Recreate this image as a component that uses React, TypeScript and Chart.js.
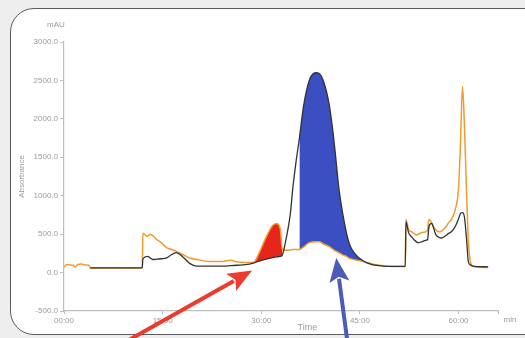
import React, { useEffect, useRef } from "react";
import { Chart, registerables } from "chart.js";

Chart.register(...registerables);

// ---- data (time in minutes, absorbance in mAU) ----
const times = [
  0.0, 0.4, 0.9, 1.4, 1.7, 2.1, 2.6, 3.2, 3.8, 4.0, 6.0, 8.0, 10.0, 11.9, 12.0, 12.7, 13.1, 13.5, 14.1, 14.8,
  15.6, 16.4, 17.1, 18.0, 18.6, 19.1, 20.2, 22.1, 24.1, 25.3, 26.2, 28.2, 28.9, 29.7, 30.8, 31.7, 32.3, 32.9,
  33.2, 33.8, 34.4, 34.8, 35.3, 35.8, 36.4, 37.3, 38.3, 38.8, 39.5, 40.3, 40.8, 41.2, 41.8, 42.4, 42.9, 43.3,
  43.8, 44.5, 45.2, 46.0, 47.0, 48.5, 50.0, 51.9, 52.0, 52.4, 52.9, 53.2, 53.6, 53.9, 54.4, 55.0, 55.3, 55.5,
  55.9, 56.2, 56.5, 57.0, 57.4, 57.7, 58.2, 58.5, 58.9, 59.5, 60.0, 60.3, 60.6, 60.9, 61.2, 61.5, 61.8, 62.2,
  64.5,
];

const orangeTrace = [
  70, 105, 100, 95, 70, 105, 110, 100, 95, 60, 60, 60, 60, 62, 510, 470, 500, 480, 430, 390,
  325, 300, 275, 235, 210, 190, 170, 145, 145, 160, 140, 130, 135, 260, 470, 610, 640, 560,
  300, 290, 295, 300, 300, 300, 330, 390, 400, 400, 370, 340, 310, 285, 260, 230, 215, 190,
  175, 160, 150, 130, 110, 90, 80, 80, 690, 560, 530, 510, 490, 500, 520, 530, 560, 690,
  650, 600, 560, 530, 540, 560, 610, 650, 690, 820, 1100, 1700, 2420, 1900, 1100, 400, 150, 80,
  65,
];

const blackTrace = [
  null, null, null, null, null, null, null, null, null, 60, 60, 60, 60, 62, 180, 210, 190, 170, 175, 180,
  190, 235, 260, 210, 160, 120, 85, 85, 85, 90, 95, 110, 125, 150, 175, 195, 205, 210,
  230, 450, 750, 1100, 1450, 1750, 2150, 2500, 2600, 2590, 2480, 2200, 1900, 1600, 1100, 760, 540, 400,
  300, 220, 170, 130, 100, 85, 80, 80, 660, 520, 460, 430, 400, 390, 400, 420, 430, 600,
  640, 580, 500, 460, 450, 460, 490, 510, 530, 600, 700, 770, 780, 720, 450, 140, 100, 85,
  75,
];

const redRange = [28.9, 33.2];
const blueRange = [35.8, 48.5];

const xTickValues = [0, 15, 30, 45, 60];
const xAxisMax = 66;
const yAxisMin = -500;
const yAxisMax = 3000;
const yStep = 500;

// arrows: [tail, tip] in (minutes, mAU)
const redArrow = [[9.4, -900], [28.6, 26]];
const blueArrow = [[43.1, -900], [41.4, 190]];

const FONT = "'Liberation Sans', Arial, sans-serif";

const points = (vals: (number | null)[]) => times.map((t, i) => ({ x: t, y: vals[i] }));
const slicePts = (vals: (number | null)[], range: number[]) =>
  points(vals).filter((p) => p.x >= range[0] - 1e-9 && p.x <= range[1] + 1e-9);

const fmtTime = (v: number) => `${String(v).padStart(2, "0")}:00`;

function drawArrow(ctx: CanvasRenderingContext2D, x1: number, y1: number, x2: number, y2: number,
  color: string, width: number, headLen: number, headW: number) {
  const ang = Math.atan2(y2 - y1, x2 - x1);
  const bx = x2 - headLen * Math.cos(ang);
  const by = y2 - headLen * Math.sin(ang);
  ctx.save();
  ctx.strokeStyle = color;
  ctx.lineWidth = width;
  ctx.lineCap = "butt";
  ctx.beginPath();
  ctx.moveTo(x1, y1);
  ctx.lineTo(bx + 3 * Math.cos(ang), by + 3 * Math.sin(ang));
  ctx.stroke();
  ctx.fillStyle = color;
  ctx.beginPath();
  ctx.moveTo(x2, y2);
  ctx.lineTo(bx + (headW / 2) * Math.sin(ang), by - (headW / 2) * Math.cos(ang));
  ctx.lineTo(bx + 5 * Math.cos(ang), by + 5 * Math.sin(ang));
  ctx.lineTo(bx - (headW / 2) * Math.sin(ang), by + (headW / 2) * Math.cos(ang));
  ctx.closePath();
  ctx.fill();
  ctx.restore();
}

const overlayPlugin = {
  id: "overlay",
  afterDraw(chart: any) {
    const { ctx, chartArea, scales } = chart;
    const xs = scales.x;
    const ys = scales.y;
    ctx.save();
    ctx.fillStyle = "#9a9a9a";
    ctx.font = `8px ${FONT}`;
    ctx.textBaseline = "middle";
    ctx.textAlign = "center";
    ctx.fillText("mAU", chartArea.left - 8, chartArea.top - 17);
    ctx.fillText("min", chartArea.right + 12, xs.top + 9);
    ctx.font = `9px ${FONT}`;
    ctx.fillText("Time", xs.getPixelForValue(37), xs.top + 17);
    ctx.restore();

    const arrows: [number[][], string][] = [
      [redArrow, "#ea3b2e"],
      [blueArrow, "#4a5bb8"],
    ];
    for (const [a, color] of arrows) {
      drawArrow(
        ctx,
        xs.getPixelForValue(a[0][0]), ys.getPixelForValue(a[0][1]),
        xs.getPixelForValue(a[1][0]), ys.getPixelForValue(a[1][1]),
        color, 4, 24, 20
      );
    }
  },
};

export default function App() {
  const ref = useRef<HTMLCanvasElement | null>(null);

  useEffect(() => {
    if (!ref.current) return;
    const chart = new Chart(ref.current, {
      type: "line",
      data: {
        datasets: [
          {
            label: "redTop",
            data: slicePts(orangeTrace, redRange),
            borderWidth: 0,
            pointRadius: 0,
            backgroundColor: "#e8251b",
            fill: 1,
            order: 3,
            cubicInterpolationMode: "monotone",
          },
          {
            label: "redBottom",
            data: slicePts(blackTrace, redRange),
            borderWidth: 0,
            pointRadius: 0,
            fill: false,
            order: 4,
            cubicInterpolationMode: "monotone",
          },
          {
            label: "blueTop",
            data: slicePts(blackTrace, blueRange),
            borderWidth: 0,
            pointRadius: 0,
            backgroundColor: "#3b4ec2",
            fill: 3,
            order: 5,
            cubicInterpolationMode: "monotone",
          },
          {
            label: "blueBottom",
            data: slicePts(orangeTrace, blueRange),
            borderWidth: 0,
            pointRadius: 0,
            fill: false,
            order: 6,
            cubicInterpolationMode: "monotone",
          },
          {
            label: "orange",
            data: points(orangeTrace),
            borderColor: "#f29a2e",
            borderWidth: 1.5,
            pointRadius: 0,
            fill: false,
            order: 1,
            cubicInterpolationMode: "monotone",
          },
          {
            label: "black",
            data: points(blackTrace),
            borderColor: "#333333",
            borderWidth: 1.3,
            pointRadius: 0,
            fill: false,
            spanGaps: false,
            order: 0,
            cubicInterpolationMode: "monotone",
          },
        ],
      },
      options: {
        responsive: false,
        animation: false,
        devicePixelRatio: 1,
        layout: { padding: { top: 42, right: 27, left: 0, bottom: 0 } },
        plugins: { legend: { display: false }, tooltip: { enabled: false } },
        scales: {
          x: {
            type: "linear",
            min: 0,
            max: xAxisMax,
            afterFit: (s: any) => { s.height = 27; },
            afterBuildTicks: (s: any) => {
              s.ticks = [...xTickValues, xAxisMax].map((v) => ({ value: v }));
            },
            ticks: {
              autoSkip: false,
              maxRotation: 0,
              padding: 2,
              color: "#9a9a9a",
              font: { family: FONT, size: 8 },
              callback: (v: any) => (xTickValues.includes(v) ? fmtTime(v) : ""),
            },
            grid: { display: true, drawOnChartArea: false, tickLength: 3, color: "#bdbdbd" },
            border: { display: true, color: "#bdbdbd", width: 1.2 },
          },
          y: {
            type: "linear",
            min: yAxisMin,
            max: yAxisMax,
            afterFit: (s: any) => { s.width = 64; },
            ticks: {
              stepSize: yStep,
              padding: 2,
              color: "#9a9a9a",
              font: { family: FONT, size: 8 },
              callback: (v: any) => Number(v).toFixed(1),
            },
            title: {
              display: true,
              text: "Absorbance",
              color: "#9a9a9a",
              font: { family: FONT, size: 8 },
              padding: { top: 17, bottom: 0 },
            },
            grid: { display: true, drawOnChartArea: false, tickLength: 4, color: "#bdbdbd" },
            border: { display: true, color: "#bdbdbd", width: 1.2 },
          },
        },
      },
      plugins: [overlayPlugin],
    } as any);
    return () => chart.destroy();
  }, []);

  return (
    <div style={{ position: "fixed", left: 0, top: 0, width: 525, height: 338, background: "#eeeeee", overflow: "hidden" }}>
      <div
        style={{
          position: "absolute",
          left: 10,
          top: 8,
          width: 545,
          height: 327,
          boxSizing: "border-box",
          border: "1.5px solid #5c5c5c",
          borderRadius: 24,
          background: "#ffffff",
        }}
      />
      <canvas ref={ref} width={525} height={338} style={{ position: "absolute", left: 0, top: 0, width: 525, height: 338 }} />
    </div>
  );
}
